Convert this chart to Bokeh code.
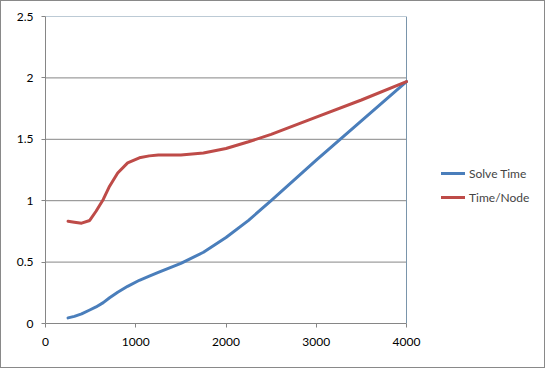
from bokeh.plotting import figure
from bokeh.models import Range1d, Legend, LegendItem, FixedTicker, CustomJSTickFormatter
from bokeh.embed import file_html
from bokeh.resources import INLINE

# Data
x_vals = [250, 320, 400, 490, 560, 640, 710, 800, 910, 1040, 1150, 1250, 1500, 1750, 2000, 2250, 2500, 3000, 3500, 4000]
solve_time = [0.046, 0.058, 0.078, 0.11, 0.135, 0.17, 0.21, 0.255, 0.303, 0.352, 0.385, 0.416, 0.49, 0.58, 0.70, 0.84, 1.0, 1.33, 1.65, 1.97]
time_node = [0.833, 0.825, 0.817, 0.839, 0.914, 1.01, 1.118, 1.226, 1.308, 1.349, 1.365, 1.372, 1.373, 1.388, 1.425, 1.48, 1.54, 1.68, 1.82, 1.97]
x_ticks = [0, 1000, 2000, 3000, 4000]
y_ticks = [0, 0.5, 1, 1.5, 2, 2.5]
series_names = ["Solve Time", "Time/Node"]

FONT = "Lato"
GRID = "#868686"
EDGE = "#7A95AB"

W, H = 545, 368
LEFT, TOP, PLOT_W, PLOT_H = 44, 15, 361, 307
x_min, x_max = x_ticks[0], x_ticks[-1]
y_min, y_max = y_ticks[0], y_ticks[-1]
frame_w = W - LEFT
# extend the x range so the frame also holds the legend area on the right
x_end = x_min + (x_max - x_min) * frame_w / PLOT_W

p = figure(width=W, height=H, output_backend="svg", toolbar_location=None,
           x_range=Range1d(x_min, x_end), y_range=Range1d(y_min, y_max),
           min_border_left=LEFT, min_border_top=TOP, min_border_right=0,
           min_border_bottom=H - TOP - PLOT_H)
p.styles = {"border": "1px solid #898989", "box-sizing": "border-box"}
p.outline_line_color = None
p.xgrid.grid_line_color = None
p.ygrid.grid_line_color = None

# horizontal gridlines limited to the plot area
p.segment(x0=[x_min] * (len(y_ticks) - 1), x1=[x_max] * (len(y_ticks) - 1),
          y0=y_ticks[1:-1] + [y_max], y1=y_ticks[1:-1] + [y_max],
          line_color=[GRID] * (len(y_ticks) - 2) + [EDGE], line_width=1)
# right border of plot area
p.segment(x0=[x_max], x1=[x_max], y0=[y_min], y1=[y_max], line_color=EDGE, line_width=1)

fmt = CustomJSTickFormatter(code="return String(tick);")
for ax, ticks in ((p.xaxis[0], x_ticks), (p.yaxis[0], y_ticks)):
    ax.ticker = FixedTicker(ticks=ticks)
    ax.formatter = fmt
    ax.axis_line_color = GRID
    ax.major_tick_line_color = GRID
    ax.major_tick_in = 0
    ax.major_tick_out = 4
    ax.minor_tick_line_color = None
    ax.major_label_text_font = FONT
    ax.major_label_text_font_size = "12px"
    ax.major_label_text_color = "#000000"
p.xaxis[0].bounds = (x_min, x_max)
p.yaxis[0].major_label_standoff = 8
p.xaxis[0].major_label_standoff = 10

r1 = p.line(x_vals, solve_time, line_color="#4A7EBB", line_width=3, line_join="round", line_cap="round")
r2 = p.line(x_vals, time_node, line_color="#BE4B48", line_width=3, line_join="round", line_cap="round")

legend = Legend(items=[LegendItem(label=series_names[0], renderers=[r1]),
                       LegendItem(label=series_names[1], renderers=[r2])],
                location=(396, 116), padding=0, spacing=4, margin=0,
                glyph_width=24, glyph_height=20, label_height=20, label_standoff=4,
                label_text_font=FONT, label_text_font_size="12px",
                border_line_color=None, background_fill_alpha=0)
p.add_layout(legend)

open("out.html", "w").write(file_html(p, INLINE))
